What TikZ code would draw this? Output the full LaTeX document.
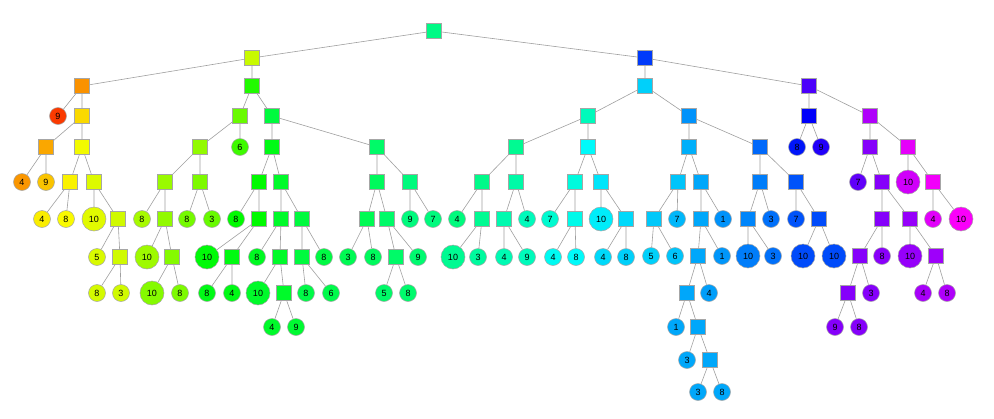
\documentclass[tikz,border=0pt]{standalone}
\usepackage{fontspec}
\setmainfont{Liberation Sans}
\usepackage{tikz}
\usetikzlibrary{positioning}

\tikzset{
  hue/.style={/utils/exec={\definecolor{huetmp}{Hsb}{#1,1,0.98}\colorlet{nodefill}[rgb]{huetmp}},fill=nodefill},
  sq/.style={hue=#1,draw=gray!70,line width=0.5pt,minimum size=15pt,inner sep=0pt},
  lf/.style={hue=#1,draw=gray!70,line width=0.5pt,circle,minimum size=17pt,inner sep=0pt,font=\fontsize{9}{10}\selectfont},
  big/.style={minimum size=24pt},
  edge/.style={draw=gray!75,line width=0.6pt}
}

\begin{document}
\begin{tikzpicture}[x=1pt,y=-1pt]
\useasboundingbox (0,0) rectangle (994,418);

% root and first levels
\node[sq=152] (r)    at (434,31) {};
\node[sq=72]  (r1)   at (252,58) {};
\node[sq=226] (r2)   at (645,58) {};
\node[sq=35]  (r11)  at (82,86)  {};
\node[sq=112] (r12)  at (252,86) {};
\node[sq=190] (r21)  at (645,86) {};
\node[sq=258] (r22)  at (809,86) {};

% left: orange / yellow branch
\node[lf=14]  (r111)     at (58,116)  {9};
\node[sq=52]  (r112)     at (82,116)  {};
\node[sq=40]  (r1121)    at (46,147)  {};
\node[sq=62]  (r1122)    at (82,147)  {};
\node[lf=36]  (r11211)   at (22,182)  {4};
\node[lf=47]  (r11212)   at (46,182)  {9};
\node[sq=58]  (r11221)   at (70,182)  {};
\node[sq=67]  (r11222)   at (94,182)  {};
\node[lf=57]  (r112211)  at (42,219)  {4};
\node[lf=60]  (r112212)  at (66,219)  {8};
\node[lf=66,big] (r112221) at (94,219) {10};
\node[sq=70]  (r112222)  at (118,219) {};
\node[lf=68]  (r1122221) at (97,257)  {5};
\node[sq=70]  (r1122222) at (120,257) {};
\node[lf=69]  (r11222221) at (97,293) {8};
\node[lf=70]  (r11222222) at (121,293) {3};

% left: lime branch
\node[sq=95]  (r121)     at (240,116) {};
\node[sq=135] (r122)     at (272,116) {};
\node[sq=85]  (r1211)    at (200,147) {};
\node[lf=105] (r1212)    at (240,147) {6};
\node[sq=83]  (r12111)   at (165,182) {};
\node[sq=90]  (r12112)   at (200,182) {};
\node[lf=80]  (r121111)  at (142,219) {8};
\node[sq=85]  (r121112)  at (165,219) {};
\node[lf=82,big] (r1211121) at (147,257) {10};
\node[sq=88]  (r1211122) at (172,257) {};
\node[lf=88,big] (r12111221) at (152,293) {10};
\node[lf=90]  (r12111222) at (180,293) {8};
\node[lf=92]  (r121121)  at (187,219) {8};
\node[lf=95]  (r121122)  at (212,219) {3};

% left: green branch
\node[sq=125] (r1221)    at (272,147) {};
\node[sq=145] (r1222)    at (377,147) {};
\node[sq=120] (r12211)   at (259,182) {};
\node[sq=130] (r12212)   at (281,182) {};
\node[lf=120] (r122111)  at (236,219) {8};
\node[sq=120] (r122112)  at (259,219) {};
\node[lf=122,big] (r1221121) at (207,257) {10};
\node[sq=124] (r1221122) at (232,257) {};
\node[lf=125] (r12211221) at (207,293) {8};
\node[lf=125] (r12211222) at (232,293) {4};
\node[sq=130] (r122121)  at (281,219) {};
\node[sq=135] (r122122)  at (302,219) {};
\node[lf=128] (r1221211) at (257,257) {8};
\node[sq=130] (r1221212) at (280,257) {};
\node[lf=130,big] (r12212121) at (258,293) {10};
\node[sq=130] (r12212122) at (284,293) {};
\node[lf=130] (r122121221) at (272,327) {4};
\node[lf=132] (r122121222) at (296,327) {9};
\node[sq=135] (r1221221) at (302,257) {};
\node[lf=136] (r1221222) at (324,257) {8};
\node[lf=137] (r12212211) at (306,293) {8};
\node[lf=138] (r12212212) at (331,293) {6};

\node[sq=142] (r12221)   at (377,182) {};
\node[sq=150] (r12222)   at (410,182) {};
\node[sq=140] (r122211)  at (367,219) {};
\node[sq=145] (r122212)  at (387,219) {};
\node[lf=140] (r1222111) at (348,257) {3};
\node[lf=142] (r1222112) at (373,257) {8};
\node[sq=145] (r1222121) at (396,257) {};
\node[lf=147] (r1222122) at (418,257) {9};
\node[lf=145] (r12221211) at (384,293) {5};
\node[lf=146] (r12221212) at (408,293) {8};
\node[lf=150] (r122221)  at (410,219) {9};
\node[lf=150] (r122222)  at (433,219) {7};

% right: teal / cyan branch
\node[sq=165] (r211)     at (588,116) {};
\node[sq=205] (r212)     at (689,116) {};
\node[sq=155] (r2111)    at (516,147) {};
\node[sq=180] (r2112)    at (588,147) {};
\node[sq=153] (r21111)   at (482,182) {};
\node[sq=160] (r21112)   at (516,182) {};
\node[lf=150] (r211111)  at (457,219) {4};
\node[sq=155] (r211112)  at (482,219) {};
\node[lf=155,big] (r2111121) at (453,257) {10};
\node[lf=158] (r2111122) at (478,257) {3};
\node[sq=162] (r211121)  at (504,219) {};
\node[lf=165] (r211122)  at (527,219) {4};
\node[lf=163] (r2111211) at (504,257) {4};
\node[lf=165] (r2111212) at (527,257) {9};
\node[sq=173] (r21121)   at (575,182) {};
\node[sq=185] (r21122)   at (601,182) {};
\node[lf=170] (r211211)  at (550,219) {7};
\node[sq=176] (r211212)  at (575,219) {};
\node[lf=178] (r2112121) at (553,257) {4};
\node[lf=180] (r2112122) at (576,257) {8};
\node[lf=183,big] (r211221) at (601,219) {10};
\node[sq=188] (r211222)  at (626,219) {};
\node[lf=188] (r2112221) at (603,257) {4};
\node[lf=190] (r2112222) at (626,257) {8};

% right: light blue branch
\node[sq=198] (r2121)    at (689,147) {};
\node[sq=215] (r2122)    at (760,147) {};
\node[sq=193] (r21211)   at (678,182) {};
\node[sq=200] (r21212)   at (701,182) {};
\node[sq=192] (r212111)  at (654,219) {};
\node[lf=196] (r212112)  at (677,219) {7};
\node[lf=190] (r2121111) at (651,256) {5};
\node[lf=193] (r2121112) at (675,256) {6};
\node[sq=200] (r212121)  at (701,219) {};
\node[lf=205] (r212122)  at (723,219) {1};
\node[sq=200] (r2121211) at (698,256) {};
\node[lf=204] (r2121212) at (722,256) {1};
\node[sq=200] (r21212111) at (687,293) {};
\node[lf=202] (r21212112) at (709,293) {4};
\node[lf=200] (r212121111) at (676,327) {1};
\node[sq=200] (r212121112) at (698,327) {};
\node[lf=200] (r2121211121) at (687,360) {3};
\node[sq=200] (r2121211122) at (710,360) {};
\node[lf=200] (r21212111221) at (698,392) {3};
\node[lf=200] (r21212111222) at (722,392) {8};

\node[sq=210] (r21221)   at (760,182) {};
\node[sq=220] (r21222)   at (796,182) {};
\node[sq=208] (r212211)  at (748,219) {};
\node[lf=213] (r212212)  at (771,219) {3};
\node[lf=210,big] (r2122111) at (748,256) {10};
\node[lf=213] (r2122112) at (773,256) {3};
\node[lf=220] (r212221)  at (796,219) {7};
\node[sq=222] (r212222)  at (819,219) {};
\node[lf=222,big] (r2122221) at (803,256) {10};
\node[lf=222,big] (r2122222) at (834,256) {10};

% right: blue / purple branch
\node[sq=240] (r221)     at (809,116) {};
\node[sq=282] (r222)     at (870,116) {};
\node[lf=235] (r2211)    at (797,147) {8};
\node[lf=248] (r2212)    at (821,147) {9};
\node[sq=272] (r2221)    at (870,147) {};
\node[sq=295] (r2222)    at (908,147) {};
\node[lf=263] (r22211)   at (858,182) {7};
\node[sq=272] (r22212)   at (882,182) {};
\node[sq=272] (r222121)  at (882,219) {};
\node[sq=276] (r222122)  at (910,219) {};
\node[sq=272] (r2221211) at (860,256) {};
\node[lf=273] (r2221212) at (882,256) {8};
\node[sq=272] (r22212111) at (848,293) {};
\node[lf=272] (r22212112) at (871,293) {3};
\node[lf=272] (r222121111) at (835,327) {9};
\node[lf=272] (r222121112) at (859,327) {8};
\node[lf=276,big] (r2221221) at (910,256) {10};
\node[sq=278] (r2221222) at (936,256) {};
\node[lf=280] (r22212221) at (923,293) {4};
\node[lf=282] (r22212222) at (947,293) {8};
\node[lf=290,big] (r22221) at (908,182) {10};
\node[sq=298] (r22222)   at (933,182) {};
\node[lf=294] (r222221)  at (933,219) {4};
\node[lf=300,big] (r222222) at (961,219) {10};

% edges
\draw[edge] (r) -- (r1) (r) -- (r2);
\draw[edge] (r1) -- (r11) (r1) -- (r12);
\draw[edge] (r2) -- (r21) (r2) -- (r22);
\draw[edge] (r11) -- (r111) (r11) -- (r112);
\draw[edge] (r112) -- (r1121) (r112) -- (r1122);
\draw[edge] (r1121) -- (r11211) (r1121) -- (r11212);
\draw[edge] (r1122) -- (r11221) (r1122) -- (r11222);
\draw[edge] (r11221) -- (r112211) (r11221) -- (r112212);
\draw[edge] (r11222) -- (r112221) (r11222) -- (r112222);
\draw[edge] (r112222) -- (r1122221) (r112222) -- (r1122222);
\draw[edge] (r1122222) -- (r11222221) (r1122222) -- (r11222222);
\draw[edge] (r12) -- (r121) (r12) -- (r122);
\draw[edge] (r121) -- (r1211) (r121) -- (r1212);
\draw[edge] (r1211) -- (r12111) (r1211) -- (r12112);
\draw[edge] (r12111) -- (r121111) (r12111) -- (r121112);
\draw[edge] (r121112) -- (r1211121) (r121112) -- (r1211122);
\draw[edge] (r1211122) -- (r12111221) (r1211122) -- (r12111222);
\draw[edge] (r12112) -- (r121121) (r12112) -- (r121122);
\draw[edge] (r122) -- (r1221) (r122) -- (r1222);
\draw[edge] (r1221) -- (r12211) (r1221) -- (r12212);
\draw[edge] (r12211) -- (r122111) (r12211) -- (r122112);
\draw[edge] (r122112) -- (r1221121) (r122112) -- (r1221122);
\draw[edge] (r1221122) -- (r12211221) (r1221122) -- (r12211222);
\draw[edge] (r12212) -- (r122121) (r12212) -- (r122122);
\draw[edge] (r122121) -- (r1221211) (r122121) -- (r1221212);
\draw[edge] (r1221212) -- (r12212121) (r1221212) -- (r12212122);
\draw[edge] (r12212122) -- (r122121221) (r12212122) -- (r122121222);
\draw[edge] (r122122) -- (r1221221) (r122122) -- (r1221222);
\draw[edge] (r1221221) -- (r12212211) (r1221221) -- (r12212212);
\draw[edge] (r1222) -- (r12221) (r1222) -- (r12222);
\draw[edge] (r12221) -- (r122211) (r12221) -- (r122212);
\draw[edge] (r122211) -- (r1222111) (r122211) -- (r1222112);
\draw[edge] (r122212) -- (r1222121) (r122212) -- (r1222122);
\draw[edge] (r1222121) -- (r12221211) (r1222121) -- (r12221212);
\draw[edge] (r12222) -- (r122221) (r12222) -- (r122222);
\draw[edge] (r21) -- (r211) (r21) -- (r212);
\draw[edge] (r211) -- (r2111) (r211) -- (r2112);
\draw[edge] (r2111) -- (r21111) (r2111) -- (r21112);
\draw[edge] (r21111) -- (r211111) (r21111) -- (r211112);
\draw[edge] (r211112) -- (r2111121) (r211112) -- (r2111122);
\draw[edge] (r21112) -- (r211121) (r21112) -- (r211122);
\draw[edge] (r211121) -- (r2111211) (r211121) -- (r2111212);
\draw[edge] (r2112) -- (r21121) (r2112) -- (r21122);
\draw[edge] (r21121) -- (r211211) (r21121) -- (r211212);
\draw[edge] (r211212) -- (r2112121) (r211212) -- (r2112122);
\draw[edge] (r21122) -- (r211221) (r21122) -- (r211222);
\draw[edge] (r211222) -- (r2112221) (r211222) -- (r2112222);
\draw[edge] (r212) -- (r2121) (r212) -- (r2122);
\draw[edge] (r2121) -- (r21211) (r2121) -- (r21212);
\draw[edge] (r21211) -- (r212111) (r21211) -- (r212112);
\draw[edge] (r212111) -- (r2121111) (r212111) -- (r2121112);
\draw[edge] (r21212) -- (r212121) (r21212) -- (r212122);
\draw[edge] (r212121) -- (r2121211) (r212121) -- (r2121212);
\draw[edge] (r2121211) -- (r21212111) (r2121211) -- (r21212112);
\draw[edge] (r21212111) -- (r212121111) (r21212111) -- (r212121112);
\draw[edge] (r212121112) -- (r2121211121) (r212121112) -- (r2121211122);
\draw[edge] (r2121211122) -- (r21212111221) (r2121211122) -- (r21212111222);
\draw[edge] (r2122) -- (r21221) (r2122) -- (r21222);
\draw[edge] (r21221) -- (r212211) (r21221) -- (r212212);
\draw[edge] (r212211) -- (r2122111) (r212211) -- (r2122112);
\draw[edge] (r21222) -- (r212221) (r21222) -- (r212222);
\draw[edge] (r212222) -- (r2122221) (r212222) -- (r2122222);
\draw[edge] (r22) -- (r221) (r22) -- (r222);
\draw[edge] (r221) -- (r2211) (r221) -- (r2212);
\draw[edge] (r222) -- (r2221) (r222) -- (r2222);
\draw[edge] (r2221) -- (r22211) (r2221) -- (r22212);
\draw[edge] (r22212) -- (r222121) (r22212) -- (r222122);
\draw[edge] (r222121) -- (r2221211) (r222121) -- (r2221212);
\draw[edge] (r2221211) -- (r22212111) (r2221211) -- (r22212112);
\draw[edge] (r22212111) -- (r222121111) (r22212111) -- (r222121112);
\draw[edge] (r222122) -- (r2221221) (r222122) -- (r2221222);
\draw[edge] (r2221222) -- (r22212221) (r2221222) -- (r22212222);
\draw[edge] (r2222) -- (r22221) (r2222) -- (r22222);
\draw[edge] (r22222) -- (r222221) (r22222) -- (r222222);
\end{tikzpicture}
\end{document}
